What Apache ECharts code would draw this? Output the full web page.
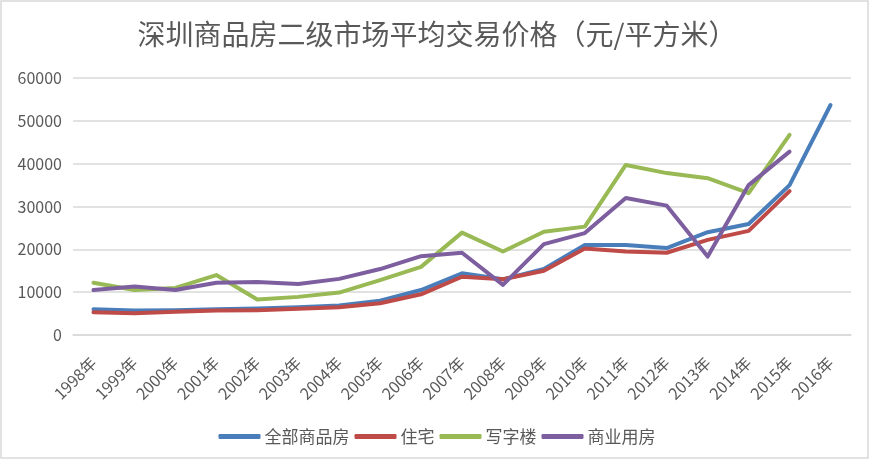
<!DOCTYPE html>
<html><head><meta charset="utf-8">
<script src="https://cdn.jsdelivr.net/npm/echarts@6/dist/echarts.min.js"></script>
<style>html,body{margin:0;padding:0;background:#fff}#c{width:874px;height:464px}</style>
</head><body><div id="c"></div>
<script>
const categories = ['1998年','1999年','2000年','2001年','2002年','2003年','2004年','2005年','2006年','2007年','2008年','2009年','2010年','2011年','2012年','2013年','2014年','2015年','2016年'];
const allHousing = [6000,5700,5800,6000,6200,6500,6900,8000,10500,14400,13000,15400,21000,21000,20300,24000,25900,35000,53700];
const residential = [5300,5100,5400,5700,5800,6100,6500,7400,9500,13600,13000,15000,20200,19500,19200,22200,24300,33600,null];
const office = [12200,10500,11000,14000,8300,8900,9900,12800,15900,23900,19500,24100,25300,39700,37800,36600,33100,46700,null];
const commercial = [10500,11300,10500,12200,12400,11900,13100,15400,18400,19200,11700,21200,23800,32000,30200,18300,35000,42800,null];
const yTicks = [0,10000,20000,30000,40000,50000,60000];

const font = '"Noto Sans CJK SC", "Noto Sans", sans-serif';
const grey = '#595959';
const chart = echarts.init(document.getElementById('c'));
function s(name, data, color){
  return {name, type:'line', data, symbol:'none', connectNulls:false,
    lineStyle:{width:4, color, cap:'round', join:'round'}, itemStyle:{color}};
}
chart.setOption({
  animation:false,
  graphic:[{type:'rect', shape:{x:1,y:1,width:867,height:457}, style:{fill:null, stroke:'#d9d9d9', lineWidth:1.5}}],
  title:{text:'深圳商品房二级市场平均交易价格（元/平方米）', left:'center', top:15,
    textStyle:{fontFamily:font, fontSize:28, fontWeight:'normal', color:grey}},
  grid:{left:73, right:23, top:78, bottom:129, containLabel:false},
  legend:{bottom:14, left:'center', itemGap:5, itemWidth:42, itemHeight:5, icon:'roundRect',
    textStyle:{fontFamily:font, fontSize:17, color:grey, padding:[0,0,0,-1]},
    data:['全部商品房','住宅','写字楼','商业用房']},
  xAxis:{type:'category', data:categories, boundaryGap:true,
    axisLine:{lineStyle:{color:'#d9d9d9', width:1.5}}, axisTick:{show:false},
    axisLabel:{rotate:45, interval:0, fontFamily:font, fontSize:16, color:grey, margin:25}},
  yAxis:{type:'value', min:0, max:60000, interval:10000,
    axisLine:{show:false}, axisTick:{show:false},
    splitLine:{lineStyle:{color:'#d9d9d9', width:1.5}},
    axisLabel:{fontFamily:font, fontSize:16, color:grey, margin:11,
      formatter:function(v){return String(v);}, customValues:yTicks}},
  series:[
    s('全部商品房', allHousing, '#4a7ebb'),
    s('住宅', residential, '#be4b48'),
    s('写字楼', office, '#98b954'),
    s('商业用房', commercial, '#7d5fa0')
  ]
});
</script></body></html>
